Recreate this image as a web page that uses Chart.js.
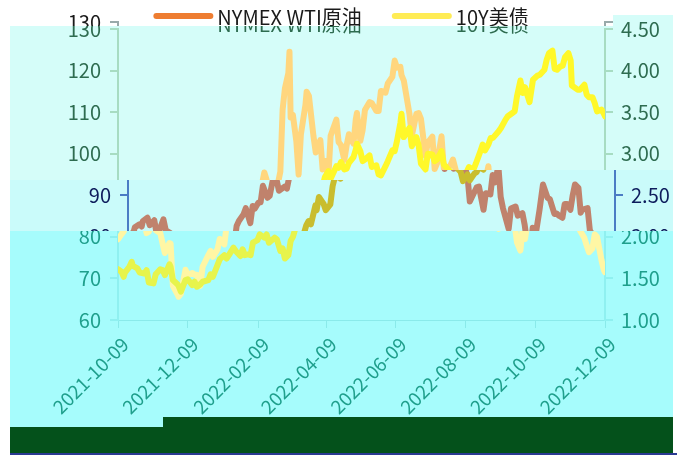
<!DOCTYPE html>
<html><head><meta charset="utf-8">
<script src="https://cdn.jsdelivr.net/npm/chart.js@4.4.1/dist/chart.umd.min.js"></script>
<style>
html,body{margin:0;padding:0;background:#fff;overflow:hidden;}
#wrap{position:relative;width:687px;height:455px;overflow:hidden;background:#fff;}
canvas{position:absolute;}
.blk{position:absolute;}
</style></head><body>
<div id="wrap">
<canvas id="cBase" width="687" height="455" style="left:0;top:-7px"></canvas>
<canvas id="cTop" width="687" height="455" style="left:0;top:0;clip-path:polygon(10px 26px,613px 26px,613px 15px,673px 15px,673px 170px,440px 170px,440px 180px,10px 180px)"></canvas>
<canvas id="cMid" width="687" height="455" style="left:10px;top:0;clip-path:polygon(0px 180px,430px 180px,430px 170px,663px 170px,663px 231px,0px 231px)"></canvas>
<canvas id="cBot" width="687" height="455" style="left:0;top:0;clip-path:polygon(10px 231px,673px 231px,673px 427px,10px 427px)"></canvas>
<div class="blk" style="left:10px;top:427px;width:153px;height:26px;background:#04511b"></div>
<div class="blk" style="left:163px;top:417px;width:510px;height:36px;background:#04511b"></div>
<div class="blk" style="left:10px;top:453px;width:667px;height:2px;background:#2b3a92"></div>
</div>
<script>
const seriesNames = ['NYMEX WTI原油', '10Y美债'];
const tickLabels = ['2021-10-09','2021-12-09','2022-02-09','2022-04-09','2022-06-09','2022-08-09','2022-10-09','2022-12-09'];
const leftTicks = [60,70,80,90,100,110,120,130];
const rightTicks = ['1.00','1.50','2.00','2.50','3.00','3.50','4.00','4.50'];
const dates = [
'2021-10-09','2021-10-12','2021-10-14','2021-10-15','2021-10-19','2021-10-21','2021-10-22','2021-10-26','2021-10-28',
'2021-11-01','2021-11-03','2021-11-05','2021-11-09','2021-11-11','2021-11-15','2021-11-17','2021-11-19','2021-11-23','2021-11-24','2021-11-26','2021-11-30',
'2021-12-01','2021-12-03','2021-12-07','2021-12-09','2021-12-13','2021-12-15','2021-12-17','2021-12-20','2021-12-22','2021-12-27','2021-12-29','2021-12-31',
'2022-01-04','2022-01-06','2022-01-10','2022-01-12','2022-01-14','2022-01-18','2022-01-20','2022-01-24','2022-01-26','2022-01-28','2022-01-31',
'2022-02-02','2022-02-04','2022-02-08','2022-02-10','2022-02-14','2022-02-16','2022-02-18','2022-02-23','2022-02-25','2022-02-28',
'2022-03-02','2022-03-04','2022-03-07','2022-03-08','2022-03-09','2022-03-11','2022-03-14','2022-03-16','2022-03-18','2022-03-22','2022-03-23','2022-03-25','2022-03-29','2022-03-31',
'2022-04-04','2022-04-06','2022-04-08','2022-04-11','2022-04-13','2022-04-18','2022-04-20','2022-04-22','2022-04-25','2022-04-27','2022-04-29',
'2022-05-03','2022-05-05','2022-05-06','2022-05-09','2022-05-11','2022-05-13','2022-05-17','2022-05-19','2022-05-23','2022-05-25','2022-05-27','2022-05-31',
'2022-06-02','2022-06-06','2022-06-08','2022-06-10','2022-06-13','2022-06-14','2022-06-16','2022-06-21','2022-06-23','2022-06-27','2022-06-29',
'2022-07-01','2022-07-05','2022-07-07','2022-07-11','2022-07-13','2022-07-15','2022-07-19','2022-07-21','2022-07-25','2022-07-27','2022-07-29',
'2022-08-02','2022-08-04','2022-08-08','2022-08-10','2022-08-12','2022-08-16','2022-08-18','2022-08-22','2022-08-24','2022-08-26','2022-08-29','2022-08-31',
'2022-09-02','2022-09-07','2022-09-09','2022-09-13','2022-09-15','2022-09-19','2022-09-21','2022-09-23','2022-09-26','2022-09-28','2022-09-30',
'2022-10-04','2022-10-07','2022-10-11','2022-10-13','2022-10-17','2022-10-19','2022-10-21','2022-10-24','2022-10-26','2022-10-28','2022-10-31',
'2022-11-02','2022-11-04','2022-11-07','2022-11-09','2022-11-10','2022-11-15','2022-11-17','2022-11-21','2022-11-23','2022-11-25','2022-11-28','2022-11-30',
'2022-12-02','2022-12-06','2022-12-08','2022-12-09'
];
const wti = [
79.4,80.6,81.3,82.3,83.0,82.5,83.8,84.6,82.8,
84.0,80.9,81.3,84.2,81.6,80.9,78.4,76.1,78.5,78.4,68.2,66.2,
65.6,66.3,72.1,70.9,71.3,70.9,70.9,68.2,72.8,75.6,76.6,75.2,
77.0,79.5,78.2,82.6,83.8,85.4,86.9,83.3,87.4,86.8,88.2,
88.3,92.3,89.4,89.9,95.5,93.7,91.1,92.1,91.6,95.7,
110.6,115.7,119.4,124.5,108.7,109.3,103.0,95.0,104.7,111.8,114.9,113.9,104.2,100.3,
103.3,96.2,98.3,94.3,104.3,108.2,102.8,102.1,98.5,102.0,104.7,
102.4,108.3,109.8,103.1,105.7,110.5,112.4,112.2,110.3,110.3,115.1,114.7,
116.9,118.5,122.4,120.7,120.9,118.9,117.6,109.5,104.3,109.6,109.8,
108.4,99.5,102.7,104.1,96.3,97.6,104.2,96.4,96.7,97.3,98.6,
94.4,88.5,90.8,91.9,92.1,86.5,90.5,90.2,94.9,93.1,97.0,89.6,
86.9,81.9,86.8,87.3,85.1,85.7,82.9,78.7,76.7,82.2,79.5,
86.5,92.6,89.4,89.1,85.5,85.6,85.1,84.6,87.9,87.9,86.5,
90.0,92.6,91.8,85.8,86.5,86.9,81.6,79.7,77.9,76.3,77.2,80.6,
80.0,74.3,72.0,71.5
];
const ust10y = [
1.61,1.58,1.52,1.57,1.64,1.70,1.65,1.62,1.57,
1.56,1.60,1.45,1.44,1.55,1.61,1.60,1.54,1.67,1.64,1.48,1.43,
1.41,1.34,1.48,1.49,1.42,1.46,1.40,1.43,1.46,1.48,1.55,1.52,
1.66,1.73,1.78,1.74,1.78,1.87,1.83,1.77,1.85,1.78,1.79,
1.78,1.93,1.96,2.03,1.99,2.03,1.93,1.99,1.97,1.83,
1.86,1.74,1.78,1.86,1.95,2.00,2.14,2.19,2.15,2.38,2.32,2.48,2.40,2.32,
2.39,2.61,2.72,2.79,2.70,2.85,2.83,2.90,2.81,2.82,2.89,
2.96,3.05,3.12,3.03,2.91,2.93,2.98,2.84,2.86,2.75,2.74,2.85,
2.91,3.04,3.03,3.15,3.37,3.48,3.20,3.31,3.09,3.20,3.10,
2.88,2.81,3.00,2.99,2.91,2.93,3.03,2.87,2.81,2.78,2.67,
2.75,2.68,2.76,2.78,2.84,2.81,2.88,3.03,3.11,3.04,3.11,3.19,
3.19,3.27,3.31,3.41,3.45,3.49,3.51,3.69,3.88,3.73,3.80,
3.62,3.89,3.94,3.95,4.01,4.13,4.21,4.24,4.02,4.01,4.05,
4.06,4.16,4.21,4.12,3.82,3.77,3.77,3.83,3.71,3.68,3.68,3.61,
3.51,3.53,3.48,3.45
];

const T0 = Date.UTC(2021, 9, 9);
function dayIdx(s){ const p = s.split('-').map(Number); return (Date.UTC(p[0], p[1]-1, p[2]) - T0) / 86400000; }
const FONT = '"Noto Sans CJK SC", "Noto Sans", sans-serif';

const bgPlugin = {
  id: 'bandBg',
  beforeDraw(chart, args, opts){
    const c = chart.ctx; c.save(); c.fillStyle = opts.color; c.fillRect(0,0,chart.width,chart.height); c.restore();
  }
};
const legendPlugin = {
  id: 'customLegend',
  afterDraw(chart, args, opts){
    const ctx = chart.ctx;
    ctx.save();
    ctx.font = '20px ' + FONT;
    const items = chart.data.datasets.map((ds,i)=>({label: ds.label, color: opts.iconColors[i]}));
    const iconW = 60, gapIT = 4, gapItems = 30;
    let total = 0;
    items.forEach((it,i)=>{ it.tw = ctx.measureText(it.label).width; total += iconW + gapIT + it.tw + (i ? gapItems : 0); });
    let x = opts.cx - total/2; const y = opts.cy;
    items.forEach((it,i)=>{
      if (i) x += gapItems;
      ctx.strokeStyle = it.color; ctx.lineWidth = 6; ctx.lineCap = 'round';
      ctx.beginPath(); ctx.moveTo(x+3, y); ctx.lineTo(x+iconW-3, y); ctx.stroke();
      x += iconW + gapIT;
      ctx.fillStyle = opts.textColor; ctx.textBaseline = 'middle'; ctx.textAlign = 'left';
      ctx.fillText(it.label, x, y + 1);
      x += it.tw;
    });
    ctx.restore();
  }
};

function makeChart(id, th){
  const ctx = document.getElementById(id).getContext('2d');
  return new Chart(ctx, {
    type: 'line',
    data: {
      datasets: [
        { label: seriesNames[0], data: dates.map((d,i)=>({x: dayIdx(d), y: wti[i]})), yAxisID: 'y',
          borderColor: th.wti, borderWidth: 6, pointRadius: 0, tension: 0, borderJoinStyle: 'round', borderCapStyle: 'round', order: 1 },
        { label: seriesNames[1], data: dates.map((d,i)=>({x: dayIdx(d), y: ust10y[i]})), yAxisID: 'y1',
          borderColor: th.ty, borderWidth: 6, pointRadius: 0, tension: 0, borderJoinStyle: 'round', borderCapStyle: 'round', order: 0 }
      ]
    },
    options: {
      responsive: false, animation: false, devicePixelRatio: 1,
      layout: { padding: { top: 29, left: 0, right: 0, bottom: 0 } },
      plugins: {
        legend: { display: false }, tooltip: { enabled: false },
        bandBg: { color: th.bg },
        customLegend: { iconColors: [th.iconW, th.iconT], textColor: th.legendText, cx: 341, cy: 23 }
      },
      scales: {
        x: {
          type: 'linear', min: 0, max: dayIdx(tickLabels[tickLabels.length-1]),
          afterBuildTicks: s => { s.ticks = tickLabels.map(t => ({ value: dayIdx(t) })); },
          afterFit: s => { s.height = 135; },
          ticks: { autoSkip: false, minRotation: 45, maxRotation: 45, padding: 5, labelOffset: 7, color: th.tick,
                   font: { family: FONT, size: 19 }, callback: (v, i) => tickLabels[i] },
          grid: { display: true, drawOnChartArea: false, drawTicks: true, tickLength: 8, color: th.xgrid, lineWidth: 1 },
          border: { display: true, color: th.xgrid, width: 1 }
        },
        y: {
          position: 'left', min: leftTicks[0], max: leftTicks[leftTicks.length-1],
          afterBuildTicks: s => { s.ticks = leftTicks.map(v => ({ value: v })); },
          afterFit: s => { s.width = 118; },
          ticks: { color: th.tick, padding: 9, font: { family: FONT, size: 20 }, callback: (v, i) => String(leftTicks[i]) },
          grid: { display: true, drawOnChartArea: false, drawTicks: true, tickLength: 8, color: th.axis, lineWidth: 2 },
          border: { display: true, color: th.axis, width: 2 }
        },
        y1: {
          position: 'right', min: Number(rightTicks[0]), max: Number(rightTicks[rightTicks.length-1]),
          afterBuildTicks: s => { s.ticks = rightTicks.map(v => ({ value: Number(v) })); },
          afterFit: s => { s.width = 82; },
          ticks: { color: th.tick, padding: 8, font: { family: FONT, size: 20 }, callback: (v, i) => rightTicks[i] },
          grid: { display: true, drawOnChartArea: false, drawTicks: true, tickLength: 8, color: th.axis, lineWidth: 2 },
          border: { display: true, color: th.axis, width: 2 }
        }
      }
    },
    plugins: [bgPlugin, legendPlugin]
  });
}

makeChart('cBase', { bg:'#ffffff', wti:'#ee7d31', ty:'#ffe600', tick:'#1a1a1a', axis:'#9aa', xgrid:'#ccc', legendText:'#1a1a1a', iconW:'#ee7d31', iconT:'#ffec55' });
makeChart('cTop',  { bg:'#d5fdf9', wti:'#ffd67e', ty:'#fff82a', tick:'#2e6c50', axis:'#a7dcc2', xgrid:'#d5fdf9', legendText:'#2e6c50', iconW:'#ffd67e', iconT:'#fff7a0' });
makeChart('cMid',  { bg:'#cafbfa', wti:'#c0826c', ty:'#c9bd2e', tick:'#0d1c5c', axis:'#4b7cc4', xgrid:'#cafbfa', legendText:'#0d1c5c', iconW:'#c0826c', iconT:'#c9bd2e' });
makeChart('cBot',  { bg:'#a6fcfc', wti:'#fff6a4', ty:'#e7f44c', tick:'#1f9f8c', axis:'#8ff0f0', xgrid:'#8aeaea', legendText:'#1f9f8c', iconW:'#fff6a4', iconT:'#e7f44c' });
</script>
</body></html>
